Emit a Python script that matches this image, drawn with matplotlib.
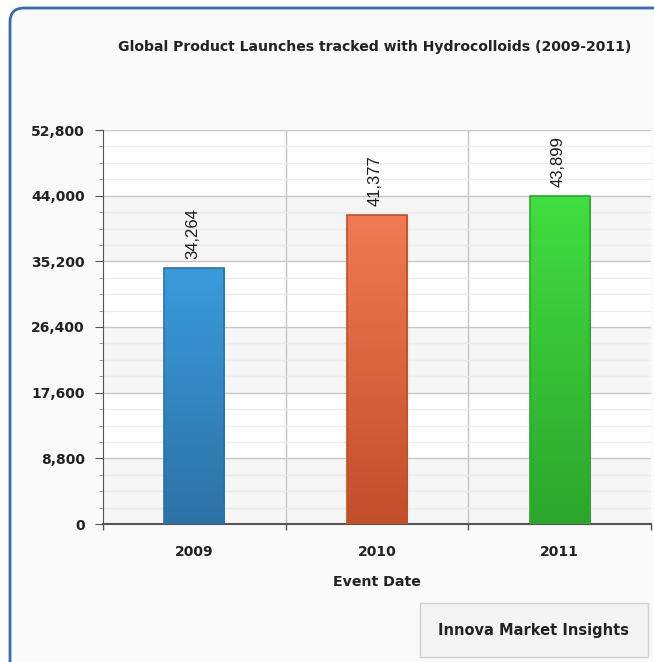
import numpy as np
import matplotlib.pyplot as plt
import matplotlib.patches as patches
from matplotlib.ticker import FuncFormatter, MultipleLocator
from matplotlib.colors import LinearSegmentedColormap

plt.rcParams['font.family'] = ['DejaVu Sans']

# data
years = ["2009", "2010", "2011"]
launches = [34264, 41377, 43899]
top_cols = ["#3a9bdc", "#f07a52", "#40de40"]
bot_cols = ["#2c72a6", "#c24e2a", "#2ca62c"]

title = "Global Product Launches tracked with Hydrocolloids (2009-2011)"
ymax = 52800
ystep = 8800

W, H = 654, 662
fig = plt.figure(figsize=(W / 100, H / 100), dpi=100)
fig.patch.set_facecolor("white")

# outer panel with rounded blue frame
bg = fig.add_axes([0, 0, 1, 1])
bg.set_xlim(0, W)
bg.set_ylim(H, 0)
bg.axis("off")
frame = patches.FancyBboxPatch((10, 8), W + 40, H + 40,
                               boxstyle="round,pad=0,rounding_size=14",
                               facecolor="#fafafa", edgecolor="#2f6db5", lw=2)
bg.add_patch(frame)

# footer box
box = patches.Rectangle((420, 603), 228, 54, facecolor="#f4f4f4",
                        edgecolor="#d0d0d0", lw=1)
bg.add_patch(box)
bg.text(533, 630, "Innova Market Insights", ha="center", va="center",
        fontsize=10.5, fontweight="bold", color="#222222")

bg.text(375, 47, title, ha="center", va="center", fontsize=10.1,
        fontweight="bold", color="#222222")

ax = fig.add_axes([103 / W, 1 - 524 / H, 548 / W, 394 / H])
ax.set_facecolor("white")
x = np.arange(len(years))

# alternating bands
for i, lo in enumerate(np.arange(0, ymax, ystep)):
    if i % 2 == 0:
        ax.axhspan(lo, lo + ystep, color="#f6f6f6", zorder=0, lw=0)

ax.yaxis.set_major_locator(MultipleLocator(ystep))
ax.yaxis.set_minor_locator(MultipleLocator(ystep / 4))
ax.grid(which="major", axis="y", color="#c8c8c8", lw=1, zorder=1)
ax.grid(which="minor", axis="y", color="#ebebeb", lw=1, zorder=1)
for b in np.arange(0.5, len(years) - 0.5, 1):
    ax.axvline(b, color="#c4c4c4", lw=1, zorder=1)

# bars with vertical gradient
bw = 0.33
for xi, v, c1, c2 in zip(x, launches, top_cols, bot_cols):
    cmap = LinearSegmentedColormap.from_list("g", [c2, c1])
    grad = np.linspace(0, 1, 100).reshape(-1, 1)
    ax.imshow(grad, cmap=cmap, aspect="auto", origin="lower",
              extent=(xi - bw / 2, xi + bw / 2, 0, v), zorder=3)
    ax.add_patch(patches.Rectangle((xi - bw / 2, 0), bw, v, fill=False,
                                   edgecolor=c2, lw=1.2, zorder=4))
    ax.text(xi - 0.01, v + 1300, f"{v:,}", rotation=90, ha="center", va="bottom",
            fontsize=12, color="#1a1a1a", zorder=5, family="Liberation Sans")
ax.set_xlim(-0.5, len(years) - 0.5)
ax.set_ylim(0, ymax)

ax.set_xticks(x)
ax.set_xticklabels(years, fontsize=10, fontweight="bold", color="#222222")
ax.tick_params(axis="x", which="major", length=0, pad=15)
ax.set_xticks(np.arange(-0.5, len(years), 1), minor=True)
ax.tick_params(axis="x", which="minor", length=4.5, color="#555555", width=1)
ax.yaxis.set_major_formatter(FuncFormatter(lambda v, p: f"{int(v):,}"))
ax.tick_params(axis="y", which="major", length=6, color="#555555",
               labelsize=10, labelcolor="#222222", pad=7)
ax.tick_params(axis="y", which="minor", length=3, color="#888888")
for lab in ax.get_yticklabels():
    lab.set_fontweight("bold")

ax.set_xlabel("Event Date", fontsize=10.2, fontweight="bold", color="#222222",
              labelpad=12)
for s in ["top", "right"]:
    ax.spines[s].set_visible(False)
ax.spines["left"].set_color("#555555")
ax.spines["bottom"].set_color("#555555")
ax.spines["bottom"].set_linewidth(1.5)

fig.savefig("out.png", dpi=100)
